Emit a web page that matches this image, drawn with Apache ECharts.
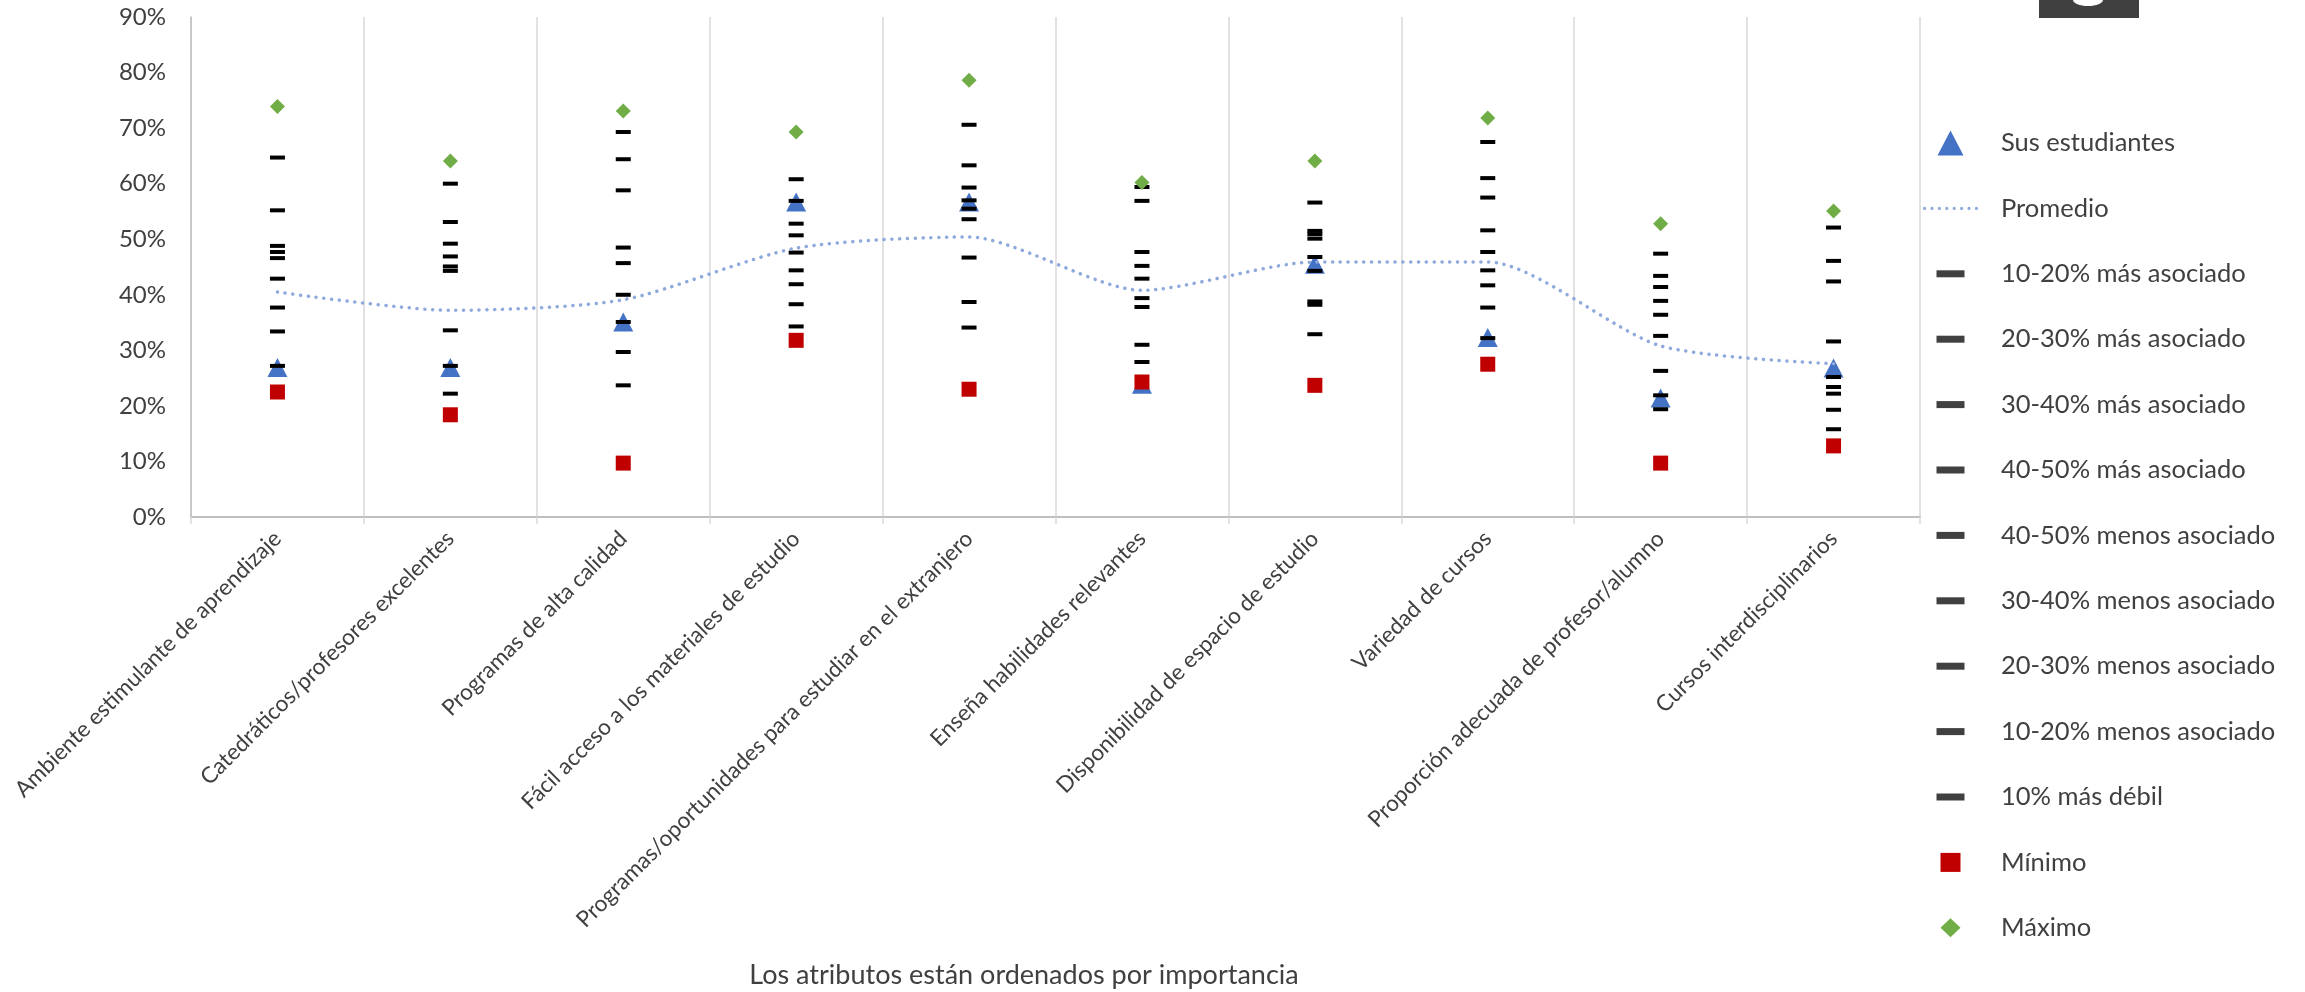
<!DOCTYPE html>
<html>
<head>
<meta charset="utf-8">
<script src="https://cdn.jsdelivr.net/npm/echarts@6/dist/echarts.min.js"></script>
<style>
  html, body { margin: 0; padding: 0; background: #fff; }
  #main { width: 2305px; height: 992px; }
</style>
</head>
<body>
<div id="main"></div>
<script>
var categories = [
    'Ambiente estimulante de aprendizaje',
    'Catedráticos/profesores excelentes',
    'Programas de alta calidad',
    'Fácil acceso a los materiales de estudio',
    'Programas/oportunidades para estudiar en el extranjero',
    'Enseña habilidades relevantes',
    'Disponibilidad de espacio de estudio',
    'Variedad de cursos',
    'Proporción adecuada de profesor/alumno',
    'Cursos interdisciplinarios'
];

var susEstudiantes = [26.9, 26.9, 35.1, 56.7, 56.7, 23.9, 45.5, 32.3, 21.4, 26.8];
var promedio = [40.5, 37.2, 39.1, 48.4, 50.4, 40.8, 45.9, 45.9, 30.8, 27.6];
var mas10_20 = [64.7, 60.0, 69.3, 60.8, 70.6, 59.4, 56.6, 67.5, 47.4, 52.1];
var mas20_30 = [55.2, 53.1, 64.4, 56.9, 63.3, 56.9, 51.5, 61.0, 43.4, 46.1];
var mas30_40 = [48.8, 49.2, 58.8, 52.8, 59.3, 47.7, 50.9, 57.5, 41.4, 42.4];
var mas40_50 = [47.7, 46.9, 48.5, 50.7, 57.0, 45.2, 50.1, 51.6, 38.9, 31.6];
var menos40_50 = [46.6, 45.1, 45.7, 47.6, 55.5, 42.9, 46.8, 47.7, 36.4, 25.2];
var menos30_40 = [42.9, 44.3, 40.0, 44.4, 53.6, 39.4, 44.3, 44.4, 32.6, 23.4];
var menos20_30 = [37.7, 33.6, 35.1, 41.9, 46.7, 37.8, 38.8, 41.7, 26.3, 22.2];
var menos10_20 = [33.4, 27.2, 29.7, 38.3, 38.7, 31.0, 38.2, 37.7, 21.9, 19.3];
var debil10 = [27.2, 22.2, 23.7, 34.3, 34.1, 27.9, 32.9, 32.2, 19.4, 15.8];
var minimo = [22.5, 18.4, 9.7, 31.8, 23.0, 24.3, 23.7, 27.5, 9.7, 12.8];
var maximo = [73.9, 64.1, 73.1, 69.3, 78.6, 60.2, 64.1, 71.8, 52.8, 55.1];

var dashNames = [
    '10-20% más asociado', '20-30% más asociado', '30-40% más asociado', '40-50% más asociado',
    '40-50% menos asociado', '30-40% menos asociado', '20-30% menos asociado', '10-20% menos asociado',
    '10% más débil'
];
var dashData = [mas10_20, mas20_30, mas30_40, mas40_50, menos40_50, menos30_40, menos20_30, menos10_20, debil10];

var FONT = 'Lato';
var TXT = '#404040';

// legend icons drawn inside a fixed 55x28 box so every shape keeps its own size
function boxIcon(shape, w, h) {
    var bw = 55, bh = 28;
    var x0 = -(bw - w) / 2, y0 = -(bh - h) / 2;
    var pad = 'M' + x0 + ',' + y0 + 'L' + x0 + ',' + y0 +
        'M' + (x0 + bw) + ',' + (y0 + bh) + 'L' + (x0 + bw) + ',' + (y0 + bh);
    var p = '';
    if (shape === 'triangle') {
        p = 'M' + (w / 2) + ',0L' + w + ',' + h + 'L0,' + h + 'Z';
    } else if (shape === 'diamond') {
        p = 'M' + (w / 2) + ',0L' + w + ',' + (h / 2) + 'L' + (w / 2) + ',' + h + 'L0,' + (h / 2) + 'Z';
    } else if (shape === 'dots') {
        // dotted line sample, 8 round dots
        for (var k = 0; k < 8; k++) {
            var cx = 1.6 + k * (w - 3.2) / 7;
            p += 'M' + (cx - 1.6) + ',' + (h / 2) + 'a1.6,1.6 0 1,0 3.2,0a1.6,1.6 0 1,0 -3.2,0Z';
        }
    } else {
        p = 'M0,0H' + w + 'V' + h + 'H0Z';
    }
    return 'path://' + pad + p;
}

function chart(id) {
    var myChart = echarts.init(document.getElementById(id));

    var series = [];
    var legendData = [];

    series.push({
        name: 'Sus estudiantes',
        type: 'scatter',
        symbol: 'triangle',
        symbolSize: [20, 19],
        itemStyle: { color: '#4472C4', opacity: 1 },
        data: susEstudiantes
    });
    legendData.push({ name: 'Sus estudiantes', icon: boxIcon('triangle', 26, 25) });

    series.push({
        name: 'Promedio',
        type: 'line',
        symbol: 'none',
        showSymbol: false,
        smooth: 0.25,
        lineStyle: { color: '#8EA9DB', width: 3.5, type: [0.1, 7.7], cap: 'round' },
        itemStyle: { color: '#8EA9DB' },
        data: promedio
    });
    legendData.push({ name: 'Promedio', icon: boxIcon('dots', 55, 4), itemStyle: { color: '#8EA9DB', borderWidth: 0 } });

    for (var i = 0; i < dashNames.length; i++) {
        series.push({
            name: dashNames[i],
            type: 'scatter',
            symbol: 'rect',
            symbolSize: [15, 4],
            itemStyle: { color: '#000000', opacity: 1 },
            data: dashData[i]
        });
        legendData.push({ name: dashNames[i], icon: boxIcon('rect', 28, 7), itemStyle: { color: '#404040', opacity: 1 } });
    }

    series.push({
        name: 'Mínimo',
        type: 'scatter',
        symbol: 'rect',
        symbolSize: 15,
        itemStyle: { color: '#C00000', opacity: 1 },
        data: minimo
    });
    legendData.push({ name: 'Mínimo', icon: boxIcon('rect', 20, 19) });

    series.push({
        name: 'Máximo',
        type: 'scatter',
        symbol: 'diamond',
        symbolSize: 15,
        itemStyle: { color: '#70AD47', opacity: 1 },
        data: maximo
    });
    legendData.push({ name: 'Máximo', icon: boxIcon('diamond', 20, 19) });

    option = {
        animation: false,
        textStyle: { fontFamily: FONT },
        grid: {
            left: 191,
            right: 385,
            top: 17,
            bottom: 475,
            containLabel: false,
            outerBoundsMode: 'none'
        },
        legend: {
            orient: 'vertical',
            left: 1918,
            top: 124,
            itemWidth: 55,
            itemHeight: 28,
            itemGap: 37.4,
            selectedMode: false,
            textStyle: { fontFamily: FONT, fontSize: 25.5, color: TXT, lineHeight: 28, padding: [0, 0, 0, 18] },
            data: legendData
        },
        xAxis: [{
            type: 'category',
            data: categories,
            boundaryGap: true,
            axisLine: { show: true, lineStyle: { color: '#BFBFBF', width: 2 } },
            axisTick: { show: true, length: 7, lineStyle: { color: '#D9D9D9', width: 1.5 } },
            splitLine: { show: true, lineStyle: { color: '#D9D9D9', width: 1.5 } },
            axisLabel: {
                interval: 0,
                rotate: 45,
                margin: 18,
                fontFamily: FONT,
                fontSize: 22.5,
                color: TXT
            }
        }],
        yAxis: [{
            type: 'value',
            min: 0,
            max: 90,
            interval: 10,
            axisLine: { show: true, lineStyle: { color: '#BFBFBF', width: 1.5 } },
            axisTick: { show: false },
            splitLine: { show: false },
            axisLabel: {
                formatter: '{value}%',
                margin: 25,
                fontFamily: FONT,
                fontSize: 24,
                color: TXT
            }
        }],
        graphic: [
            {
                type: 'text',
                x: 1024,
                y: 975,
                style: {
                    text: 'Los atributos están ordenados por importancia',
                    fontFamily: FONT,
                    fontSize: 27,
                    fill: TXT,
                    align: 'center',
                    verticalAlign: 'middle'
                }
            },
            {
                type: 'rect',
                shape: { x: 2039, y: 0, width: 100, height: 18 },
                style: { fill: '#404040' }
            },
            {
                type: 'ellipse',
                shape: { cx: 2088, cy: 0, rx: 15, ry: 6 },
                style: { fill: '#FFFFFF' }
            }
        ],
        series: series
    };

    myChart.setOption(option);

    window.onresize = function() {
        myChart.resize();
    }
}

chart('main');
</script>
</body>
</html>
